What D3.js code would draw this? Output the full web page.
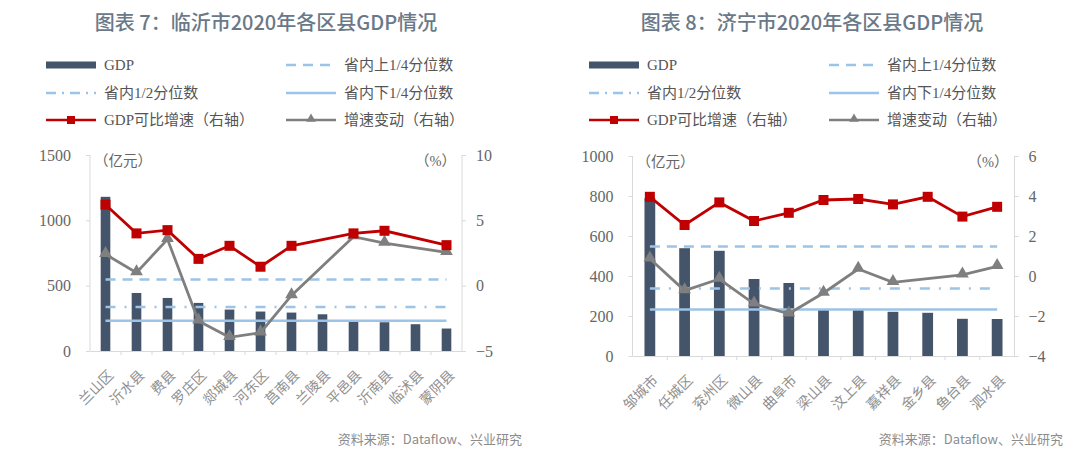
<!DOCTYPE html>
<html><head><meta charset="utf-8">
<script src="https://cdn.jsdelivr.net/npm/d3@7"></script>
<style>
html,body{margin:0;padding:0;background:#fff;}
svg{display:block;}
</style></head>
<body>
<svg id="c" width="1080" height="467"></svg>
<script>
// ---------- DATA ----------
const linyiCategories = ["兰山区","沂水县","费县","罗庄区","郯城县","河东区","莒南县","兰陵县","平邑县","沂南县","临沭县","蒙阴县"];
const linyiGDP = [1180,444,406,368,317,302,294,281,222,220,205,172];
const linyiGrowth = [6.2,4.0,4.25,2.05,3.05,1.45,3.05,null,4.0,4.2,null,3.1];
const linyiChange = [2.4,1.0,3.55,-2.7,-3.95,-3.6,-0.75,null,3.75,3.25,null,2.55];
const linyiLeftTicks = [0,500,1000,1500];
const linyiRightTicks = [-5,0,5,10];

const jiningCategories = ["邹城市","任城区","兖州区","微山县","曲阜市","梁山县","汶上县","嘉祥县","金乡县","鱼台县","泗水县"];
const jiningGDP = [790,539,526,385,365,232,230,221,216,186,185];
const jiningGrowth = [3.96,2.55,3.68,2.75,3.16,3.8,3.85,3.58,3.96,2.97,3.46];
const jiningChange = [0.86,-0.73,-0.15,-1.39,-1.89,-0.85,0.35,-0.32,null,0.06,0.48];
const jiningLeftTicks = [0,200,400,600,800,1000];
const jiningRightTicks = [-4,-2,0,2,4,6];

const provinceQuantiles = [547, 337, 232]; // upper quartile, median, lower quartile

const legendLabels = ["GDP","省内上1/4分位数","省内1/2分位数","省内下1/4分位数","GDP可比增速（右轴）","增速变动（右轴）"];
const titles = ["图表 7：临沂市2020年各区县GDP情况","图表 8：济宁市2020年各区县GDP情况"];
const sourceText = "资料来源：Dataflow、兴业研究";

// ---------- STYLE ----------
const C = {bar:"#44546A", red:"#C00000", gray:"#7F7F7F", ref:"#9DC3E6", axis:"#D9D9D9", tick:"#666666", title:"#6A7888", legend:"#555555"};
const CJK = "'Noto Sans CJK SC','Noto Sans',sans-serif";
const SERIF = "'Liberation Serif','Noto Sans CJK SC',serif";

const svg = d3.select("#c");

function drawChart(o){
  const g = svg.append("g");
  // title
  g.append("text").attr("x", o.cx).attr("y", 30).attr("text-anchor","middle")
    .style("font-family", CJK).attr("font-size", 20).attr("fill", C.title).attr("font-weight",500)
    .text(o.title);

  // legend
  const rows = [65, 93, 120];
  const cols = [o.lx, o.lx + 240];
  const items = ["bar","dash","dashdot","solid","red","gray"];
  items.forEach((t,i)=>{
    const x = cols[i%2], y = rows[Math.floor(i/2)];
    const lg = g.append("g");
    const ln = () => lg.append("line").attr("x1",x).attr("x2",x+50).attr("y1",y).attr("y2",y).attr("stroke-width",2.5);
    if(t==="bar"){
      lg.append("rect").attr("x",x).attr("y",y-3.5).attr("width",50).attr("height",7).attr("fill",C.bar);
    } else if(t==="dash"){
      ln().attr("stroke",C.ref).attr("stroke-dasharray","10,7");
    } else if(t==="dashdot"){
      ln().attr("stroke",C.ref).attr("stroke-dasharray","10,6,2,6");
    } else if(t==="solid"){
      ln().attr("stroke",C.ref);
    } else if(t==="red"){
      ln().attr("stroke",C.red);
      lg.append("rect").attr("x",x+21).attr("y",y-4).attr("width",8).attr("height",8).attr("fill",C.red);
    } else {
      ln().attr("stroke",C.gray);
      lg.append("path").attr("d",d3.symbol().type(d3.symbolTriangle).size(40)).attr("transform",`translate(${x+25},${y-1})`).attr("fill",C.gray);
    }
    lg.append("text").attr("x", x+58).attr("y", y+5).style("font-family", SERIF).attr("font-size",15)
      .attr("fill",C.legend).text(legendLabels[i]);
  });

  // scales
  const x = d3.scaleBand().domain(o.cats).range([o.x0, o.x1]);
  const yL = d3.scaleLinear().domain(d3.extent(o.leftTicks)).range([o.yb, o.yt]);
  const yR = d3.scaleLinear().domain(d3.extent(o.rightTicks)).range([o.yb, o.yt]);
  const cx = d => x(d) + x.bandwidth()/2;

  // axes lines
  g.append("line").attr("x1",o.x0).attr("x2",o.x0).attr("y1",o.yt).attr("y2",o.yb).attr("stroke",C.axis);
  g.append("line").attr("x1",o.x1).attr("x2",o.x1).attr("y1",o.yt).attr("y2",o.yb).attr("stroke",C.axis);

  const axL = d3.axisLeft(yL).tickValues(o.leftTicks).tickFormat(d3.format("d")).tickSize(4).tickPadding(15);
  const gL = g.append("g").attr("transform",`translate(${o.x0},0)`).call(axL);
  const axR = d3.axisRight(yR).tickValues(o.rightTicks).tickFormat(d3.format("d")).tickSize(4).tickPadding(10);
  const gR = g.append("g").attr("transform",`translate(${o.x1},0)`).call(axR);
  [gL,gR].forEach(a=>{
    a.select(".domain").remove();
    a.selectAll(".tick line").attr("stroke",C.axis);
    a.selectAll(".tick text").style("font-family",SERIF).style("font-size","16px").attr("fill",C.tick);
  });

  // unit labels
  g.append("text").attr("x",o.x0+4).attr("y",o.yt+11).style("font-family",SERIF).attr("font-size",14.5).attr("fill",C.tick).text("（亿元）");
  g.append("text").attr("x",o.x1-6).attr("y",o.yt+11).attr("text-anchor","end").style("font-family",SERIF).attr("font-size",14.5).attr("fill",C.tick).text("（%）");

  // bars
  const bw = x.bandwidth()*0.31;
  g.append("g").selectAll("rect").data(o.cats).join("rect")
    .attr("x", d => cx(d)-bw/2).attr("width", bw)
    .attr("y", (d,i) => yL(o.gdp[i])).attr("height",(d,i)=> yL(0)-yL(o.gdp[i]))
    .attr("fill", C.bar);

  // bottom axis
  const axB = d3.axisBottom(x).tickSize(0).tickFormat("");
  const gB = g.append("g").attr("transform",`translate(0,${o.yb})`).call(axB);
  gB.select(".domain").attr("stroke",C.axis);
  g.append("g").selectAll("line").data(o.cats.slice(1)).join("line")
    .attr("x1", d=>x(d)).attr("x2", d=>x(d)).attr("y1",o.yb).attr("y2",o.yb+4).attr("stroke",C.axis);

  // category labels
  g.append("g").selectAll("text").data(o.cats).join("text")
    .attr("transform", d => `translate(${cx(d)+9},${o.yb+25}) rotate(-45)`)
    .attr("text-anchor","end").style("font-family",CJK).attr("font-size",14).attr("fill","#8f8f8f")
    .text(d=>d);

  // reference lines
  const first = cx(o.cats[0]), last = cx(o.cats[o.cats.length-1]);
  const dashes = ["10,7","10,9,2,9",null];
  provinceQuantiles.forEach((v,i)=>{
    const l = g.append("line").attr("x1",first).attr("x2",last).attr("y1",yL(v)).attr("y2",yL(v))
      .attr("stroke",C.ref).attr("stroke-width",2.5);
    if(dashes[i]) l.attr("stroke-dasharray",dashes[i]);
  });

  // lines
  function series(vals, color, marker){
    const pts = o.cats.map((c,i)=>({c, v:vals[i]})).filter(p=>p.v!==null);
    const line = d3.line().x(p=>cx(p.c)).y(p=>yR(p.v));
    g.append("path").attr("d", line(pts)).attr("fill","none").attr("stroke",color).attr("stroke-width",2.8);
    if(marker==="square"){
      g.append("g").selectAll("rect").data(pts).join("rect")
        .attr("x",p=>cx(p.c)-5).attr("y",p=>yR(p.v)-5).attr("width",10).attr("height",10).attr("fill",color);
    } else {
      g.append("g").selectAll("path").data(pts).join("path")
        .attr("d", d3.symbol().type(d3.symbolTriangle).size(70))
        .attr("transform",p=>`translate(${cx(p.c)},${yR(p.v)-1})`).attr("fill",color);
    }
  }
  series(o.change, C.gray, "tri");
  series(o.growth, C.red, "square");

  // source
  g.append("text").attr("x", o.srcX).attr("y", 444).attr("text-anchor","end")
    .style("font-family",CJK).attr("font-size",13).attr("fill","#8c8c8c").text(sourceText);
}

drawChart({title:titles[0], cx:266, lx:46, cats:linyiCategories, gdp:linyiGDP, growth:linyiGrowth, change:linyiChange,
  leftTicks:linyiLeftTicks, rightTicks:linyiRightTicks, x0:90, x1:462, yt:155, yb:351, srcX:522});
drawChart({title:titles[1], cx:812, lx:589, cats:jiningCategories, gdp:jiningGDP, growth:jiningGrowth, change:jiningChange,
  leftTicks:jiningLeftTicks, rightTicks:jiningRightTicks, x0:632.5, x1:1014.5, yt:156, yb:356, srcX:1063});
</script>
</body></html>
